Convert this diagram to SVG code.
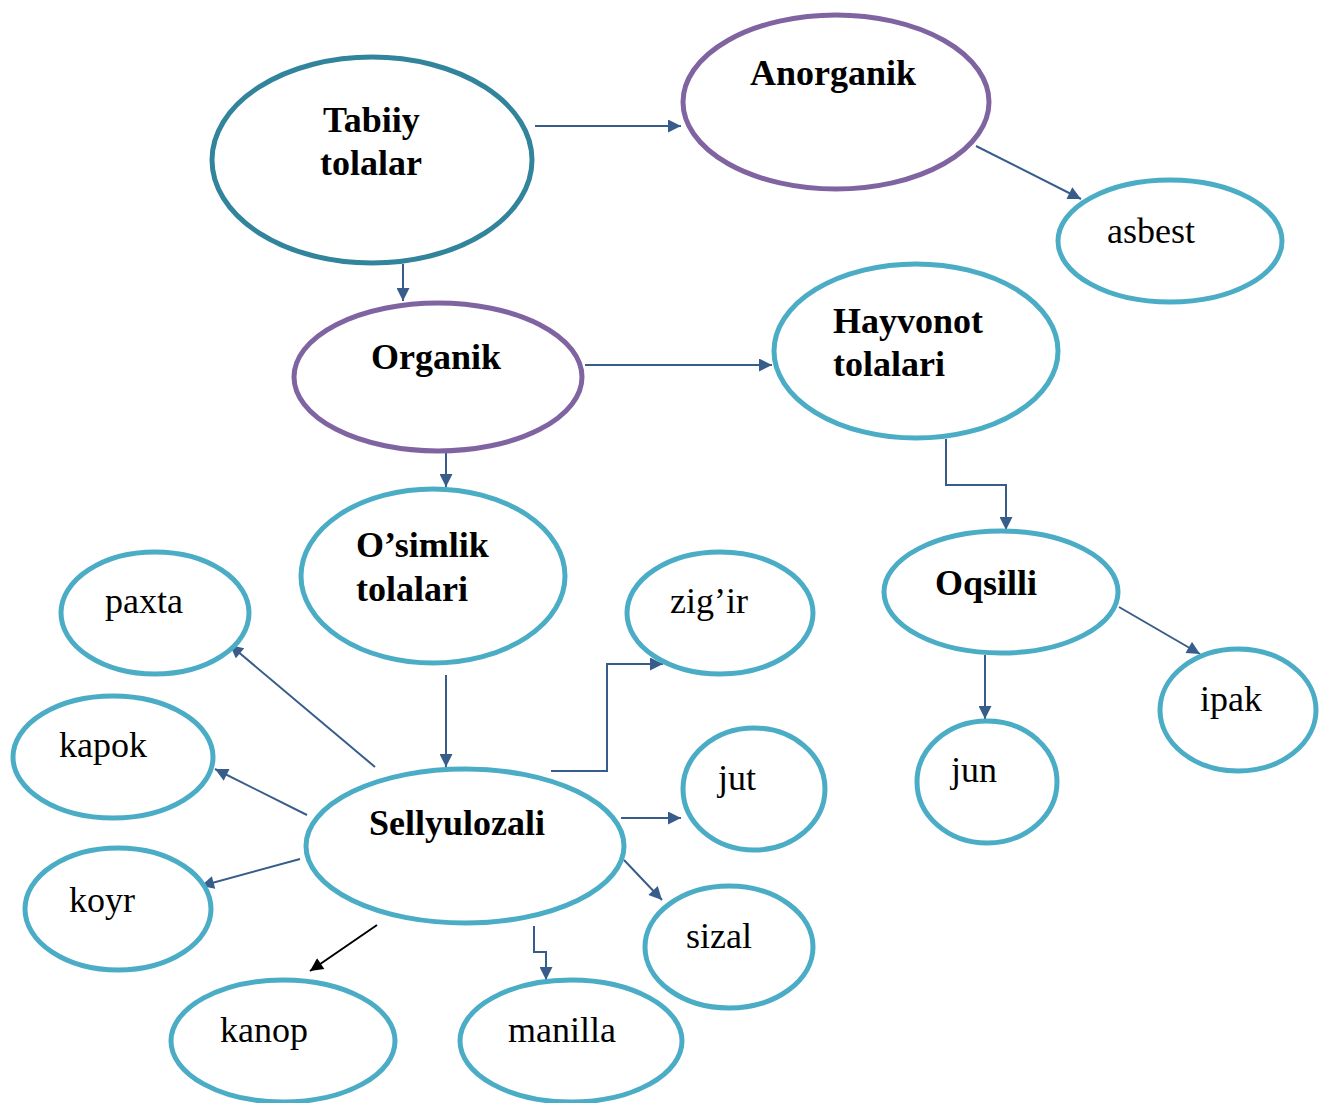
<svg xmlns="http://www.w3.org/2000/svg" width="1319" height="1103" viewBox="0 0 1319 1103">
<style>
.n{fill:#fff;stroke-width:5}
.t{stroke:#31849B}
.p{stroke:#8064A2}
.c{stroke:#4BACC6}
.b{font-family:"Liberation Serif","Times New Roman",serif;font-weight:bold;font-size:36px;fill:#000}
.r{font-family:"Liberation Serif","Times New Roman",serif;font-size:36px;fill:#000}
.e{fill:none;stroke:#385D8A;stroke-width:2}
.k{fill:none;stroke:#000;stroke-width:2}
</style>
<defs>
<marker id="a" viewBox="0 0 10 10" refX="10" refY="5" markerWidth="14" markerHeight="13" markerUnits="userSpaceOnUse" orient="auto"><path d="M0,0L10,5L0,10z" fill="#385D8A"/></marker>
<marker id="ab" viewBox="0 0 10 10" refX="10" refY="5" markerWidth="14" markerHeight="13" markerUnits="userSpaceOnUse" orient="auto"><path d="M0,0L10,5L0,10z" fill="#000"/></marker>
</defs>
<rect width="1319" height="1103" fill="#fff"/>
<g id="connectors">
<path class="e" d="M535,126H681" marker-end="url(#a)"/>
<path class="e" d="M976,146L1081,199" marker-end="url(#a)"/>
<path class="e" d="M403,264V301" marker-end="url(#a)"/>
<path class="e" d="M585,365H772" marker-end="url(#a)"/>
<path class="e" d="M446,452V487" marker-end="url(#a)"/>
<path class="e" d="M946,439V485H1006V530" marker-end="url(#a)"/>
<path class="e" d="M985,655V719" marker-end="url(#a)"/>
<path class="e" d="M1119,607L1200,654" marker-end="url(#a)"/>
<path class="e" d="M446,675V767" marker-end="url(#a)"/>
<path class="e" d="M551,771H607V664H663" marker-end="url(#a)"/>
<path class="e" d="M621,818H681" marker-end="url(#a)"/>
<path class="e" d="M624,860L662,900" marker-end="url(#a)"/>
<path class="e" d="M534,926V952H546V980" marker-end="url(#a)"/>
<path class="k" d="M377,925L310,971" marker-end="url(#ab)"/>
<path class="e" d="M300,859L201,886" marker-end="url(#a)"/>
<path class="e" d="M307,815L215,769" marker-end="url(#a)"/>
<path class="e" d="M375,767L230,645" marker-end="url(#a)"/>
</g>
<g id="tabiiy"><ellipse class="n t" cx="372" cy="160" rx="160" ry="103"/><text class="b" x="323" y="132">Tabiiy</text><text class="b" x="320" y="175">tolalar</text></g>
<g id="anorganik"><ellipse class="n p" cx="836" cy="102" rx="153" ry="87"/><text class="b" x="750" y="85">Anorganik</text></g>
<g id="asbest"><ellipse class="n c" cx="1170" cy="241" rx="112" ry="61"/><text class="r" x="1107" y="243">asbest</text></g>
<g id="organik"><ellipse class="n p" cx="438" cy="377" rx="144" ry="74"/><text class="b" x="371" y="369">Organik</text></g>
<g id="hayvonot"><ellipse class="n c" cx="916" cy="351" rx="142" ry="87"/><text class="b" x="833" y="333">Hayvonot</text><text class="b" x="833" y="376">tolalari</text></g>
<g id="osimlik"><ellipse class="n c" cx="433" cy="576" rx="132" ry="87"/><text class="b" x="356" y="557">O’simlik</text><text class="b" x="356" y="601">tolalari</text></g>
<g id="oqsilli"><ellipse class="n c" cx="1001" cy="592" rx="117" ry="61"/><text class="b" x="935" y="595">Oqsilli</text></g>
<g id="paxta"><ellipse class="n c" cx="155" cy="613" rx="94" ry="61"/><text class="r" x="105" y="613">paxta</text></g>
<g id="zigir"><ellipse class="n c" cx="720" cy="613" rx="93" ry="61"/><text class="r" x="670" y="613">zig’ir</text></g>
<g id="ipak"><ellipse class="n c" cx="1238" cy="710" rx="78" ry="61"/><text class="r" x="1200" y="711">ipak</text></g>
<g id="kapok"><ellipse class="n c" cx="113" cy="757" rx="100" ry="61"/><text class="r" x="59" y="757">kapok</text></g>
<g id="jut"><ellipse class="n c" cx="754" cy="789" rx="71" ry="61"/><text class="r" x="718" y="790">jut</text></g>
<g id="jun"><ellipse class="n c" cx="987" cy="782" rx="70" ry="61"/><text class="r" x="951" y="782">jun</text></g>
<g id="sellyulozali"><ellipse class="n c" cx="465" cy="846" rx="159" ry="77"/><text class="b" x="369" y="835">Sellyulozali</text></g>
<g id="koyr"><ellipse class="n c" cx="118" cy="909" rx="93" ry="61"/><text class="r" x="69" y="912">koyr</text></g>
<g id="sizal"><ellipse class="n c" cx="729" cy="947" rx="84" ry="61"/><text class="r" x="686" y="948">sizal</text></g>
<g id="kanop"><ellipse class="n c" cx="283" cy="1041" rx="112" ry="61"/><text class="r" x="220" y="1042">kanop</text></g>
<g id="manilla"><ellipse class="n c" cx="571" cy="1041" rx="111" ry="61"/><text class="r" x="508" y="1042">manilla</text></g>
</svg>
